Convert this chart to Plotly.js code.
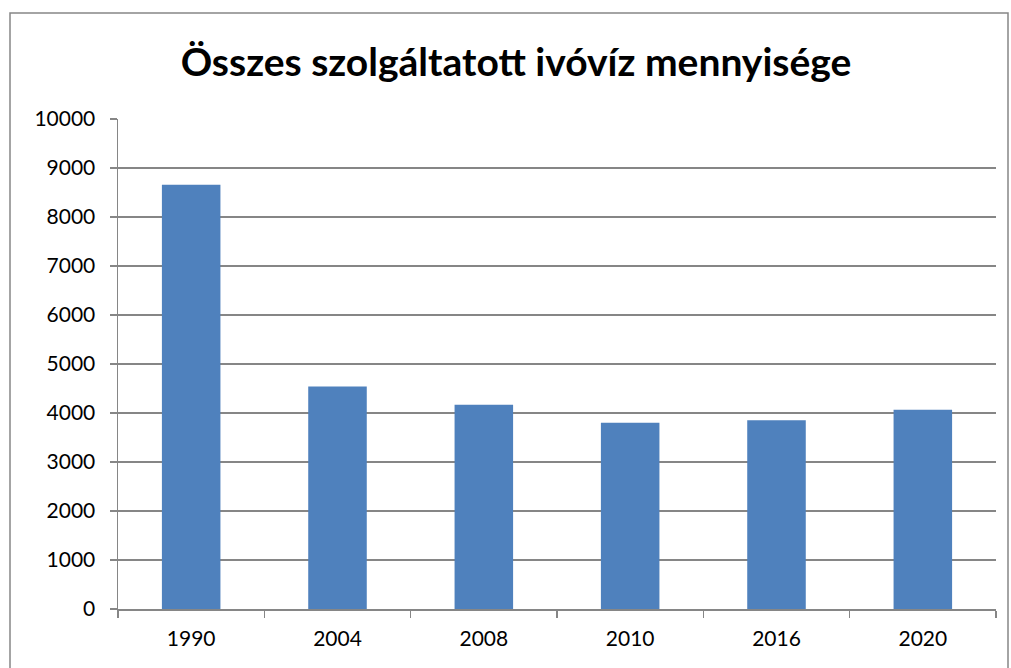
<!DOCTYPE html>
<html><head><meta charset="utf-8">
<script src="https://cdn.plot.ly/plotly-3.0.1.min.js"></script>
<style>html,body{margin:0;padding:0;background:#fff;}#chart{width:1011px;height:668px;}</style>
</head><body><div id="chart"></div>
<script>
const years = ["1990", "2004", "2008", "2010", "2016", "2020"];
const values = [8660, 4540, 4170, 3800, 3850, 4065];
const yTicks = [0, 1000, 2000, 3000, 4000, 5000, 6000, 7000, 8000, 9000, 10000];

const W = 1011, H = 668, L = 118, R = 15, T = 119, B = 59;
const pw = W - L - R, ph = H - T - B;
const px = v => (v - L) / pw;
const py = v => (H - B - v) / ph;

Plotly.newPlot('chart', [{
  type: 'bar', x: years, y: values,
  marker: {color: '#4f81bd', line: {color: '#4f81bd', width: 0}},
  hoverinfo: 'x+y'
}], {
  width: W, height: H,
  margin: {l: L, r: R, t: T, b: B},
  paper_bgcolor: '#fff', plot_bgcolor: '#fff',
  bargap: 0.6,
  showlegend: false,
  font: {family: 'Lato, "Open Sans", sans-serif', color: '#000', size: 21},
  title: {text: 'Összes szolgáltatott ivóvíz mennyisége', x: 516 / W, xref: 'container', xanchor: 'center',
          y: 1 - 62 / H, yref: 'container', yanchor: 'middle',
          font: {family: 'Lato, sans-serif', size: 39, weight: 'bold', color: '#000'}},
  xaxis: {type: 'category', showline: true, linecolor: '#868686', linewidth: 1.5,
          ticks: 'outside', tickson: 'boundaries', ticklen: 7, tickcolor: '#868686', tickwidth: 1.5,
          showgrid: false, tickfont: {size: 21}, ticklabelstandoff: 10, fixedrange: true},
  yaxis: {range: [0, 10000], tickvals: yTicks, ticktext: yTicks.map(String),
          showline: true, linecolor: '#868686', linewidth: 1.5,
          ticks: 'outside', ticklen: 7, tickcolor: '#868686', tickwidth: 1.5,
          showgrid: true, gridcolor: '#868686', gridwidth: 1.5, zeroline: false,
          tickfont: {size: 21}, ticklabelstandoff: 10, fixedrange: true},
  shapes: [{type: 'rect', xref: 'paper', yref: 'paper',
            x0: px(10), x1: px(1008), y0: py(700), y1: py(13),
            line: {color: '#868686', width: 1.5}, fillcolor: 'rgba(0,0,0,0)', layer: 'below'}]
}, {displayModeBar: false, staticPlot: true});
</script></body></html>
